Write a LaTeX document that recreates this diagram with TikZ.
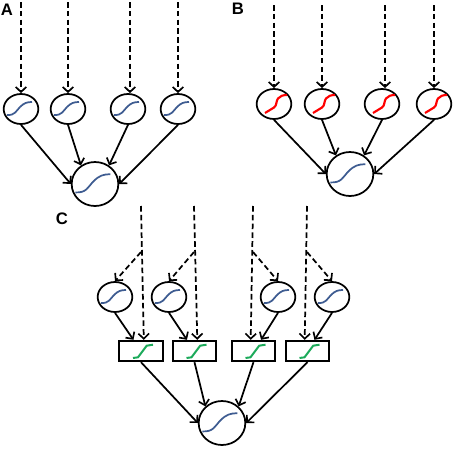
\documentclass[tikz,border=0pt]{standalone}
\usepackage{fontspec}
\setmainfont{Liberation Sans}
\usepackage{tikz}
\usetikzlibrary{shapes.geometric, arrows.meta}
\definecolor{curveblue}{RGB}{62,92,145}
\definecolor{curvegreen}{RGB}{28,170,90}
\tikzset{
  unit/.style={draw, ellipse, line width=1.3pt, inner sep=0pt, minimum width=26pt, minimum height=22.5pt},
  bigunit/.style={unit, minimum width=35pt, minimum height=33pt},
  gatebox/.style={draw, rectangle, line width=1.3pt, inner sep=0pt, minimum width=32.5pt, minimum height=15.5pt},
  panel/.style={font=\bfseries\fontsize{12.5}{12.5}\selectfont, inner sep=0pt},
  conn/.style={line width=1.3pt, -{Straight Barb[length=3.8pt,width=8pt,line width=1.25pt]}},
  input/.style={conn, dash pattern=on 4.2pt off 2.4pt},
  blueS/.pic={\draw[curveblue, line width=1.3pt] (-14,6) .. controls (-6,6.5) and (-5,2) .. (-1,-2) .. controls (3,-6) and (6,-7) .. (11,-7);},
  redS/.pic={\draw[red, line width=1.6pt] (-9,9) -- (0,3.5) .. controls (3,1.5) and (2,-3) .. (4,-5.5) .. controls (6,-8) and (9,-9) .. (13,-9);},
  greenS/.pic={\draw[curvegreen, line width=1.5pt] (-8,7) -- (-3,6.3) -- (5.7,-5.3) -- (12,-6.3);}
}
\begin{document}
\begin{tikzpicture}[x=0.75pt, y=-0.75pt]
  \useasboundingbox (0,0) rectangle (454,450);
  \node[panel] (labA) at (7,10) {A};
  \node[panel] (labB) at (238,9) {B};
  \node[panel] (labC) at (62,219) {C};

  % A
  \node[bigunit] (bigA) at (95,184) {};
  \pic[scale=1.4] at (bigA) {blueS};
  \foreach \n/\x/\xin/\ang in {1/21/21/180, 2/68/68/127, 3/128/130/53, 4/178/178/0} {
    \node[unit] (a\n) at (\x,109) {};
    \pic at (a\n) {blueS};
    \coordinate (ta\n) at (\xin,2);
    \draw[input] (ta\n) -- (ta\n |- a\n.north);
    \draw[conn] (a\n.south) -- (bigA.\ang);
  }

  % B
  \node[bigunit] (bigB) at (350,174) {};
  \pic[scale=1.4] at (bigB) {blueS};
  \foreach \n/\x/\xin/\ang in {1/274/274/180, 2/322/322/127, 3/382/385/53, 4/434/434/0} {
    \node[unit] (b\n) at (\x,104) {};
    \pic at (b\n) {redS};
    \coordinate (tb\n) at (\xin,5);
    \draw[input] (tb\n) -- (tb\n |- b\n.north);
    \draw[conn] (b\n.south) -- (bigB.\ang);
  }

  % C
  \node[bigunit] (bigC) at (222,423) {};
  \pic[scale=1.4] at (bigC) {blueS};
  \foreach \n/\x/\xin/\xbox/\ain/\ac/\ang in {1/115/141/141/76/124/180, 2/169/194/194.5/76/124/135, 3/278/253/253.5/104/56/45, 4/332/307/307.5/104/58/0} {
    \node[unit] (c\n) at (\x,297) {};
    \pic at (c\n) {blueS};
    \node[gatebox] (g\n) at (\xbox,351) {};
    \pic at (g\n) {greenS};
    \coordinate (tc\n) at (\xin,206);
    \coordinate (fc\n) at (\xin,252);
    \draw[input] (tc\n) -- (g\n.\ain);
    \draw[input] (fc\n) -- (c\n.north);
    \draw[conn] (c\n.south) -- (g\n.\ac);
    \draw[conn] (g\n.south) -- (bigC.\ang);
  }
\end{tikzpicture}
\end{document}
